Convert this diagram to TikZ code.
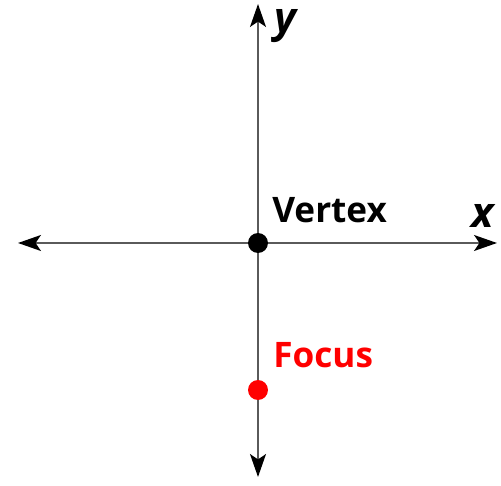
\documentclass[tikz,border=0pt]{standalone}
\usepackage{fontspec}
\setmainfont{Open Sans}
\usetikzlibrary{arrows.meta}
\definecolor{axisgray}{HTML}{5A5A5A}
\definecolor{focusred}{HTML}{FF0000}

\begin{document}
\begin{tikzpicture}[x=0.02cm, y=-0.02cm,
    every node/.style={font=\bfseries\fontsize{20}{24}\selectfont},
    axis/.style={draw=axisgray, line width=1.4pt,
      {Stealth[length=13pt,width=9pt,inset=3pt,black]}-{Stealth[length=13pt,width=9pt,inset=3pt,black]}},
    dot/.style={circle, fill, inner sep=0pt, minimum size=0.4cm}]
  \useasboundingbox (0,0) rectangle (501,486);
  % axes
  \coordinate (xl) at (18,243);
  \coordinate (xr) at (497,243);
  \coordinate (yt) at (258,4);
  \coordinate (yb) at (258,477);
  \draw[axis] (xl) -- (xr);
  \draw[axis] (yb) -- (yt);
  \node[anchor=base west, font=\bfseries\itshape\fontsize{24}{28}\selectfont] (xlab) at (465,228) {x};
  \node[anchor=base west, font=\bfseries\itshape\fontsize{24}{28}\selectfont] (ylab) at (268,33) {y};
  % points
  \node[dot, black] (vertex) at (258,243) {};
  \node[dot, focusred] (focus) at (258,390) {};
  \node[anchor=base west, inner sep=0pt] (vertexlab) at (272,223) {Vertex};
  \node[anchor=base west, inner sep=0pt, text=focusred] (focuslab) at (273,368) {Focus};
\end{tikzpicture}
\end{document}
